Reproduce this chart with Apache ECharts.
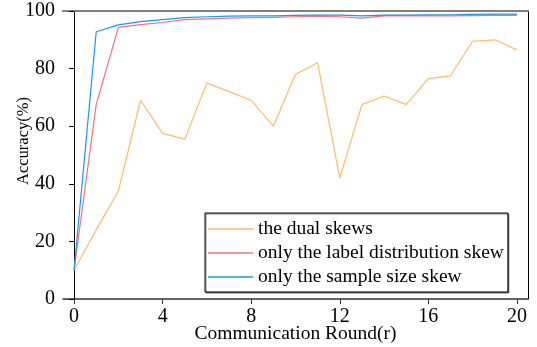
<!DOCTYPE html>
<html>
<head>
<meta charset="utf-8">
<script src="https://cdn.jsdelivr.net/npm/echarts@6/dist/echarts.min.js"></script>
<style>html,body{margin:0;padding:0;background:#fff}#c{width:537px;height:347px}</style>
</head>
<body>
<div id="c"></div>
<script>
var rounds = [0,1,2,3,4,5,6,7,8,9,10,11,12,13,14,15,16,17,18,19,20];
var dualSkews = [10,24,37.5,69,57.5,55.5,75,72,69,60,78,82,42,67.5,70.5,67.5,76.5,77.5,89.5,90,86.5];
var labelSkew = [10,67.5,94.3,95.3,96,97,97.3,97.5,97.7,97.8,98,98.2,98,97.5,98.3,98.3,98.4,98.3,98.4,98.5,98.5];
var sizeSkew = [10,92.8,95.2,96.3,97,97.7,98,98.2,98.3,98.3,98.5,98.6,98.6,98.3,98.6,98.6,98.7,98.7,98.8,98.9,98.9];
var xTicks = [0,4,8,12,16,20];
var yTicks = [0,20,40,60,80,100];
var names = ['the dual skews','only the label distribution skew','only the sample size skew'];
var colors = ['#FDBB6E','#F5727A','#1599F0'];

function pairs(ys){ return rounds.map(function(r,i){ return [r, ys[i]]; }); }
var font = 'Liberation Serif';
var chart = echarts.init(document.getElementById('c'));
chart.setOption({
  animation: false,
  textStyle: {fontFamily: font},
  grid: {left: 63, right: 9, top: 11, bottom: 48, containLabel: false, outerBoundsMode: 'none'},
  xAxis: [{
    type: 'value', min: -0.5, max: 20.5,
    name: 'Communication Round(r)', nameLocation: 'middle', nameGap: 25, nameMoveOverlap: false,
    nameTextStyle: {fontFamily: font, fontSize: 19.5, color: '#000'},
    axisLine: {show: true, lineStyle: {color: '#333', width: 1.5}},
    axisTick: {show: true, inside: false, length: 5, customValues: xTicks, lineStyle: {color: '#333'}},
    axisLabel: {customValues: xTicks, fontFamily: font, fontSize: 20, color: '#000', margin: 8},
    splitLine: {show: false}
  }, {
    type: 'value', min: -0.5, max: 20.5, position: 'top',
    axisLine: {show: true, onZero: false, lineStyle: {color: '#808080', width: 2}},
    axisTick: {show: false}, axisLabel: {show: false}, splitLine: {show: false}
  }],
  yAxis: [{
    type: 'value', min: 0, max: 100, interval: 20,
    name: 'Accuracy(%)', nameLocation: 'middle', nameGap: 31, nameRotate: 90, nameMoveOverlap: false,
    nameTextStyle: {fontFamily: font, fontSize: 16.5, color: '#000', padding: [0, 0, 0, 28]},
    axisLine: {show: true, lineStyle: {color: '#000', width: 1}},
    axisTick: {show: true, inside: false, length: 5, lineStyle: {color: '#000'}},
    axisLabel: {fontFamily: font, fontSize: 20, color: '#000', margin: 8},
    splitLine: {show: false}
  }, {
    type: 'value', min: 0, max: 100, position: 'right',
    axisLine: {show: true, onZero: false, lineStyle: {color: '#000', width: 1}},
    axisTick: {show: false}, axisLabel: {show: false}, splitLine: {show: false}
  }],
  legend: {
    orient: 'vertical', left: 205, top: 213,
    data: names.map(function(n){ return {name: n, icon: 'rect'}; }),
    itemWidth: 45, itemHeight: 1.3, itemGap: 4,
    padding: [6, 4, 5, 3],
    borderColor: '#000', borderWidth: 1, backgroundColor: '#fff',
    shadowColor: 'rgba(0,0,0,0.5)', shadowOffsetX: 1, shadowOffsetY: 1, shadowBlur: 0,
    textStyle: {fontFamily: font, fontSize: 19.5, color: '#000', lineHeight: 20, padding: [0,0,0,0]}
  },
  series: [
    {name: names[0], type: 'line', data: pairs(dualSkews), symbol: 'none', lineStyle: {color: colors[0], width: 1.2}, itemStyle: {color: colors[0]}, z: 2},
    {name: names[1], type: 'line', data: pairs(labelSkew), symbol: 'none', lineStyle: {color: colors[1], width: 1.2}, itemStyle: {color: colors[1]}, z: 3},
    {name: names[2], type: 'line', data: pairs(sizeSkew), symbol: 'none', lineStyle: {color: colors[2], width: 1.2}, itemStyle: {color: colors[2]}, z: 4}
  ]
});
</script>
</body>
</html>
